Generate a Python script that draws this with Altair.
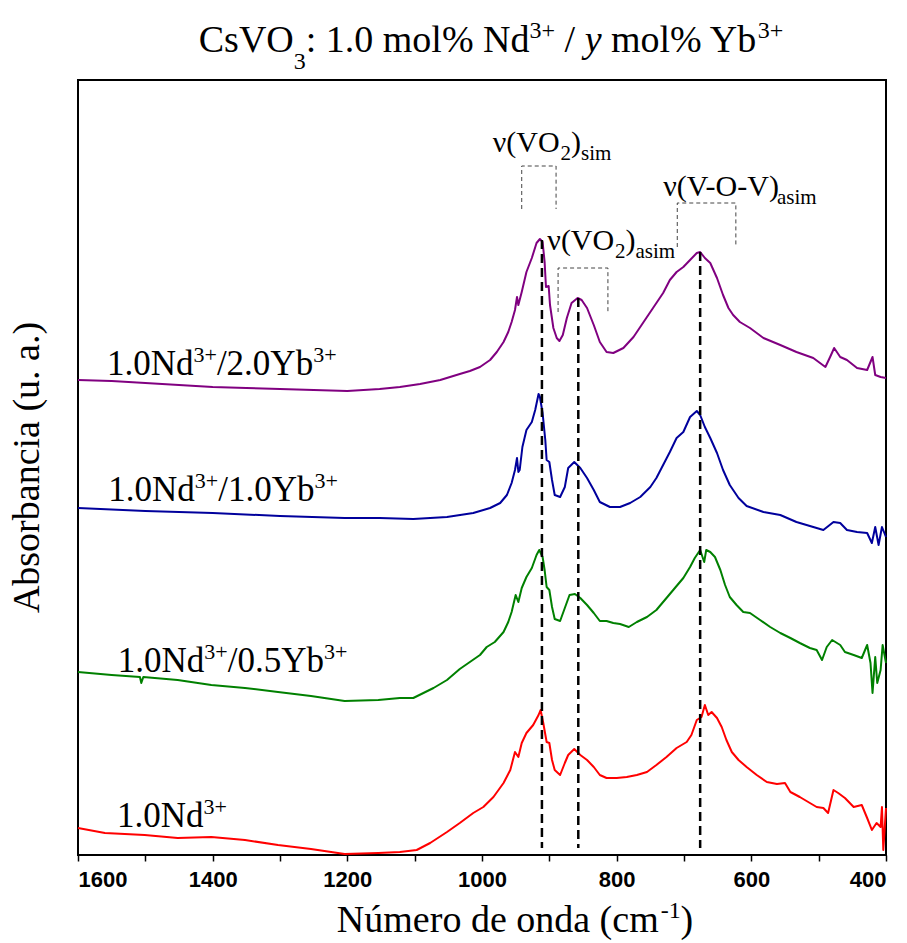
import altair as alt
import pandas as pd

# ---------------- data ----------------
# 1.0Nd/2.0Yb (purple)
wn_p = [1600, 1550, 1500, 1450, 1400, 1350, 1300, 1250, 1200, 1152, 1122, 1092, 1062, 1033, 1018, 1003, 988, 978, 968, 961, 956, 951, 948, 946, 941, 934, 926, 919, 914, 910, 907, 905, 901, 899, 894, 889, 885, 880, 874, 867, 858, 852, 844, 834, 825, 815, 805, 790, 775, 760, 746, 731, 721, 711, 701, 691, 681, 676, 669, 661, 651, 642, 634, 627, 617, 602, 582, 557, 533, 508, 490, 483, 477, 468, 458, 443, 428, 420, 416, 408, 400]
ab_p = [475, 474, 472, 470, 468, 467, 466, 465, 464, 466, 468, 471, 475, 481, 484, 488, 495, 503, 513, 523, 533, 545, 558, 550, 563, 583, 597, 612, 616, 613, 593, 568, 569, 550, 527, 517, 514, 520, 537, 552, 557, 555, 547, 530, 513, 503, 502, 507, 518, 533, 547, 562, 575, 583, 588, 595, 602, 603, 597, 592, 577, 560, 547, 540, 533, 527, 517, 510, 503, 497, 488, 498, 507, 498, 495, 487, 485, 498, 480, 478, 477]

# 1.0Nd/1.0Yb (blue)
wn_b = [1600, 1500, 1400, 1300, 1204, 1152, 1102, 1052, 1013, 988, 973, 963, 956, 951, 948, 946, 944, 940, 934, 926, 921, 916, 914, 910, 906, 904, 900, 896, 892, 884, 877, 872, 863, 854, 844, 834, 825, 810, 795, 780, 765, 750, 741, 731, 721, 711, 701, 691, 681, 676, 669, 661, 651, 642, 632, 619, 607, 582, 557, 533, 508, 493, 478, 468, 458, 443, 428, 421, 416, 411, 406, 400]
ab_b = [347, 344, 342, 339, 337, 337, 336, 338, 342, 347, 352, 360, 372, 385, 397, 383, 385, 408, 425, 433, 445, 461, 458, 442, 415, 395, 393, 375, 360, 358, 368, 387, 393, 387, 377, 365, 353, 348, 348, 352, 358, 368, 377, 390, 403, 417, 423, 438, 444, 440, 428, 417, 402, 385, 370, 357, 349, 343, 340, 333, 328, 325, 333, 332, 325, 323, 322, 312, 328, 310, 328, 318]

# 1.0Nd/0.5Yb (green)
wn_g = [1600, 1550, 1508, 1506, 1503, 1452, 1402, 1352, 1303, 1254, 1204, 1154, 1122, 1102, 1087, 1072, 1052, 1033, 1018, 1003, 993, 981, 968, 961, 956, 950, 946, 941, 934, 926, 919, 915, 910, 907, 904, 900, 896, 892, 884, 877, 870, 862, 854, 844, 834, 825, 815, 805, 795, 782, 770, 755, 741, 726, 716, 701, 691, 684, 676, 670, 667, 661, 654, 646, 639, 632, 622, 612, 602, 587, 572, 557, 542, 528, 513, 503, 495, 488, 480, 468, 461, 448, 436, 428, 423, 420, 416, 413, 408, 405, 400]
ab_g = [183, 180, 178, 172, 178, 175, 170, 167, 163, 159, 154, 155, 157, 157, 162, 167, 175, 186, 193, 200, 208, 213, 223, 233, 243, 260, 253, 267, 278, 287, 300, 305, 298, 285, 268, 265, 248, 236, 234, 247, 260, 261, 257, 250, 242, 234, 234, 232, 231, 228, 233, 238, 245, 257, 265, 277, 288, 297, 305, 293, 305, 303, 298, 285, 270, 258, 250, 243, 242, 235, 228, 222, 217, 212, 207, 205, 195, 208, 215, 210, 203, 200, 197, 210, 192, 162, 198, 172, 185, 210, 192]

# 1.0Nd (red)
wn_r = [1600, 1560, 1501, 1452, 1402, 1352, 1303, 1254, 1204, 1154, 1122, 1097, 1077, 1052, 1033, 1013, 998, 983, 968, 958, 951, 946, 941, 934, 924, 916, 913, 909, 904, 900, 896, 892, 884, 877, 872, 863, 854, 844, 834, 825, 815, 800, 785, 770, 755, 741, 726, 711, 696, 689, 681, 674, 669, 664, 659, 651, 644, 637, 629, 619, 607, 592, 577, 562, 550, 542, 528, 513, 503, 493, 486, 478, 471, 461, 448, 436, 428, 421, 414, 408, 406, 404, 400]
ab_r = [27, 22, 20, 17, 18, 15, 10, 6, 1, 2, 3, 5, 12, 23, 32, 42, 48, 58, 72, 85, 103, 98, 112, 122, 130, 140, 145, 132, 113, 112, 95, 85, 80, 92, 100, 106, 100, 95, 88, 80, 77, 77, 78, 80, 83, 90, 98, 107, 113, 120, 135, 138, 150, 140, 143, 137, 128, 115, 103, 95, 88, 80, 73, 71, 72, 63, 58, 52, 48, 47, 42, 65, 62, 57, 48, 50, 37, 25, 32, 28, 48, 5, 47]

series_names = ["1.0Nd/2.0Yb", "1.0Nd/1.0Yb", "1.0Nd/0.5Yb", "1.0Nd"]
series_colors = ["#800080", "#00009C", "#008000", "#FF0000"]

peak_wn = [911, 857, 676]
x_ticks = list(range(400, 1700, 100))

# ---------------- helpers ----------------
SERIF = "Liberation Serif"
TNR = {' ': 250, '%': 833, '(': 333, ')': 333, '+': 564, '-': 240, '.': 250, '/': 278,
       ':': 278, 'A': 722, 'C': 667, 'N': 722, 'O': 722, 'V': 722, 'Y': 722,
       'a': 444, 'b': 500, 'c': 444, 'd': 500, 'e': 444, 'i': 278, 'l': 278, 'm': 778,
       'n': 500, 'o': 500, 'r': 333, 's': 389, 'u': 500, 'ú': 500, 'y': 500, 'ν': 480}
for d in "0123456789":
    TNR[d] = 500


def tw(s, size, italic=False):
    tot = 0
    for ch in s:
        w = TNR.get(ch, 500)
        if italic and ch == 'y':
            w = 444
        tot += w
    return tot * size / 1000.0


def rich(segs, size, small=0.62, sup=0.36, sub=0.25, gap=0.0):
    """Split a rich string into plain pieces; leading/trailing blanks become offsets."""
    x = 0.0
    out = []
    for text, kind in segs:
        fs = size if kind in ('n', 'i') else round(size * small)
        dy = -sup * size if kind == 'sup' else (sub * size if kind == 'sub' else 0)
        lead = len(text) - len(text.lstrip(' '))
        core = text.strip(' ')
        trail = len(text) - lead - len(core)
        x += tw(' ' * lead, fs)
        out.append(dict(text=core, dx=x, dy=dy, size=fs, italic=(kind == 'i')))
        x += tw(core, fs, kind == 'i') + tw(' ' * trail, fs) + gap
    return out, x


W, H = 808, 775
x_scale = alt.Scale(domain=[400, 1600], reverse=True, nice=False, zero=False)
y_scale = alt.Scale(domain=[0, 775], nice=False, zero=False)
x_axis = alt.Axis(values=x_ticks, format='d',
                  labelExpr="datum.value % 200 == 0 ? datum.label : ''",
                  tickSize=6, tickWidth=1.5, tickColor='black', domain=False, grid=False,
                  labelFont='Liberation Sans', labelFontWeight='bold', labelFontSize=22,
                  labelColor='black', labelPadding=8, title=None)
y_axis = alt.Axis(labels=False, ticks=False, domain=False, grid=False, title=None)
X = alt.X('wn:Q', scale=x_scale, axis=x_axis)
Y = alt.Y('a:Q', scale=y_scale, axis=y_axis)

rows = []
for name, wn, ab in zip(series_names, [wn_p, wn_b, wn_g, wn_r], [ab_p, ab_b, ab_g, ab_r]):
    for i, (xv, yv) in enumerate(zip(wn, ab)):
        rows.append(dict(s=name, wn=xv, a=yv, i=i))
df = pd.DataFrame(rows)

layers = []
layers.append(
    alt.Chart(df).mark_line(strokeWidth=2, strokeJoin='round').encode(
        x=X, y=Y,
        color=alt.Color('s:N', scale=alt.Scale(domain=series_names, range=series_colors), legend=None),
        detail='s:N', order='i:Q')
)

# dashed peak markers
rule_df = pd.DataFrame({'wn': peak_wn, 'a': [615, 557, 603], 'a2': [7, 7, 7]})
layers.append(alt.Chart(rule_df).mark_rule(strokeDash=[9, 5], strokeWidth=2.5, color='black').encode(
    x=X, y=Y, y2='a2:Q'))

# brackets
br = []
for b, (w1, w2, top, bot) in enumerate([(941, 890, 689, 646), (887, 813, 587, 543), (710, 623, 652, 608)]):
    for o, (xv, yv) in enumerate([(w1, bot), (w1, top), (w2, top), (w2, bot)]):
        br.append(dict(b=b, o=o, wn=xv, a=yv))
layers.append(alt.Chart(pd.DataFrame(br)).mark_line(strokeDash=[4, 3], strokeWidth=1, color='#444444').encode(
    x=X, y=Y, detail='b:N', order='o:Q'))


def data_rich(wn, a, segs, size, **kw):
    pieces, _ = rich(segs, size, **kw)
    anchor = pd.DataFrame({'wn': [wn], 'a': [a]})
    res = []
    for p in pieces:
        res.append(alt.Chart(anchor).mark_text(
            text=p['text'], align='left', baseline='alphabetic', font=SERIF, fontSize=p['size'],
            fontStyle='italic' if p['italic'] else 'normal', color='black',
            dx=p['dx'], dy=p['dy']).encode(x=X, y=Y))
    return res


def pix_rich(px, py, segs, size, center=False, **kw):
    pieces, total = rich(segs, size, **kw)
    x0 = px - total / 2 if center else px
    one = pd.DataFrame({'k': [0]})
    res = []
    for p in pieces:
        res.append(alt.Chart(one).mark_text(
            text=p['text'], align='left', baseline='alphabetic', font=SERIF, fontSize=p['size'],
            fontStyle='italic' if p['italic'] else 'normal', color='black').encode(
            x=alt.value(x0 + p['dx']), y=alt.value(py + p['dy'])))
    return res


# curve labels
LS = 35
for (wn, a), yb in zip([(1557, 480), (1555, 354), (1541, 183)], ["2.0", "1.0", "0.5"]):
    layers += data_rich(wn, a, [("1.0Nd", 'n'), ("3+", 'sup'), ("/" + yb + "Yb", 'n'), ("3+", 'sup')], LS)
layers += data_rich(1542, 28, [("1.0Nd", 'n'), ("3+", 'sup')], LS)

# band annotations
AS = 30
layers += data_rich(984, 703, [("ν(VO", 'n'), ("2", 'sub'), (")", 'n'), ("sim", 'sub')], AS, small=0.7)
layers += data_rich(903, 605, [("ν(VO", 'n'), ("2", 'sub'), (")", 'n'), ("asim", 'sub')], AS, small=0.7)
layers += data_rich(731, 659, [("ν(V-O-V)", 'n'), ("asim", 'sub')], AS, small=0.7)

# title (pixel coordinates relative to plot origin)
layers += pix_rich(491 - 78, 52 - 80,
                   [("CsVO", 'n'), ("3", 'sub'), (": 1.0 mol% Nd", 'n'), ("3+", 'sup'), (" / ", 'n'),
                    ("y", 'i'), (" mol% Yb", 'n'), ("3+", 'sup')], 38, center=True, small=0.62, sub=0.45)

# x axis title
layers += pix_rich(516 - 78, 932 - 80, [("Número de onda (cm", 'n'), ("-1", 'sup'), (")", 'n')], 38,
                   center=True, gap=2)

# y axis title
layers.append(alt.Chart(pd.DataFrame({'k': [0]})).mark_text(
    text="Absorbancia (u. a.)", font=SERIF, fontSize=38, angle=270, align='center', baseline='middle',
    color='black').encode(x=alt.value(28 - 78), y=alt.value(H / 2)))

chart = alt.layer(*layers).properties(
    width=W, height=H,
    autosize=alt.AutoSizeParams(type="none"),
    padding={"left": 78, "top": 80, "right": 21, "bottom": 88},
    background='white'
).configure_view(stroke='black', strokeWidth=2)

chart.save("out.html", embed_options={"renderer": "svg", "actions": False})
